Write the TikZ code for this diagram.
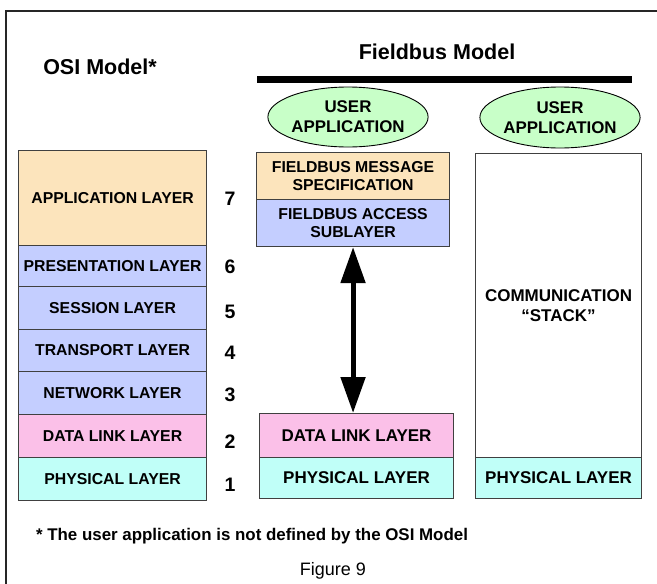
\documentclass[tikz,border=0pt]{standalone}
\usepackage{fontspec}
\setmainfont{Liberation Sans}
\usetikzlibrary{arrows.meta,shapes.geometric}
\definecolor{appc}{RGB}{252,228,188}
\definecolor{midc}{RGB}{196,206,255}
\definecolor{dlc}{RGB}{251,192,232}
\definecolor{phc}{RGB}{192,255,248}
\definecolor{usc}{RGB}{200,255,200}
\begin{document}
\begin{tikzpicture}[x=1pt,y=-1pt,
  layerbox/.style={draw=black!75, line width=1.1pt, inner sep=0pt, anchor=north west, align=center,
    font=\fontsize{15.8}{18.5}\selectfont\bfseries},
  biglabel/.style={font=\fontsize{17}{19.5}\selectfont\bfseries},
  numlabel/.style={font=\fontsize{19.5}{22}\selectfont\bfseries, inner sep=0pt},
  userell/.style={ellipse, draw=black, line width=0.9pt, fill=usc, inner sep=0pt, align=center,
    font=\fontsize{16.9}{20}\selectfont\bfseries},
  heading/.style={font=\fontsize{21.5}{25}\selectfont\bfseries, inner sep=0pt}]
\useasboundingbox[fill=white] (0,0) rectangle (657,584);
% frame (cropped)
\draw[line width=2.5pt, black!85] (657,11) -- (6,11) -- (6,584);
% headings
\node[heading] (osi) at (100,67) {OSI Model*};
\node[heading] (fb) at (437,52) {Fieldbus Model};
\node[fill=black, minimum width=375pt, minimum height=7pt, inner sep=0pt, anchor=north west] (bar) at (257,76) {};
% OSI stack
\node[layerbox, fill=appc, minimum width=188pt, minimum height=95pt] (app) at (18,150) {APPLICATION LAYER};
\node[layerbox, fill=midc, minimum width=188pt, minimum height=41pt] (pres) at (18,245) {PRESENTATION LAYER};
\node[layerbox, fill=midc, minimum width=188pt, minimum height=43pt] (sess) at (18,286) {SESSION LAYER};
\node[layerbox, fill=midc, minimum width=188pt, minimum height=42pt] (trans) at (18,329) {TRANSPORT LAYER};
\node[layerbox, fill=midc, minimum width=188pt, minimum height=43pt] (net) at (18,371) {NETWORK LAYER};
\node[layerbox, fill=dlc, minimum width=188pt, minimum height=43pt] (dl) at (18,414) {DATA LINK LAYER};
\node[layerbox, fill=phc, minimum width=188pt, minimum height=43pt] (ph) at (18,457) {PHYSICAL LAYER};
% numbers
\node[numlabel] (n7) at (230,199) {7};
\node[numlabel] (n6) at (230,267) {6};
\node[numlabel] (n5) at (230,312) {5};
\node[numlabel] (n4) at (230,353) {4};
\node[numlabel] (n3) at (230,395) {3};
\node[numlabel] (n2) at (230,442) {2};
\node[numlabel] (n1) at (230,485) {1};
% Fieldbus middle column
\node[userell, minimum width=152pt, minimum height=60pt] (ua1) at (348,117) {USER\\APPLICATION};
\node[layerbox, fill=appc, minimum width=193pt, minimum height=47pt] (fms) at (256,152) {FIELDBUS MESSAGE\\SPECIFICATION};
\node[layerbox, fill=midc, minimum width=193pt, minimum height=47pt] (fas) at (256,199) {FIELDBUS ACCESS\\SUBLAYER};
\node[layerbox, biglabel, fill=dlc, minimum width=194pt, minimum height=44pt] (mdl) at (259,413) {DATA LINK LAYER};
\node[layerbox, biglabel, fill=phc, minimum width=194pt, minimum height=41pt] (mph) at (259,457) {PHYSICAL LAYER};
\draw[line width=5pt, {Triangle[width=24pt,length=36pt]}-{Triangle[width=24pt,length=36pt]}]
  (fas.south) -- (fas.south |- mdl.north);
% Fieldbus right column
\node[userell, minimum width=154pt, minimum height=61pt] (ua2) at (560,117.5) {USER\\APPLICATION};
\node[layerbox, biglabel, fill=white, minimum width=166pt, minimum height=304pt] (stack) at (475,153) {COMMUNICATION\\“STACK”};
\node[layerbox, biglabel, fill=phc, minimum width=166pt, minimum height=41pt] (rph) at (475,457) {PHYSICAL LAYER};
% footnote and caption
\node[font=\fontsize{16.9}{19}\selectfont\bfseries, inner sep=0pt] (note) at (252,536) {* The user application is not defined by the OSI Model};
\node[font=\fontsize{18}{20}\selectfont, inner sep=0pt] (cap) at (333,571) {Figure 9};
\end{tikzpicture}
\end{document}
